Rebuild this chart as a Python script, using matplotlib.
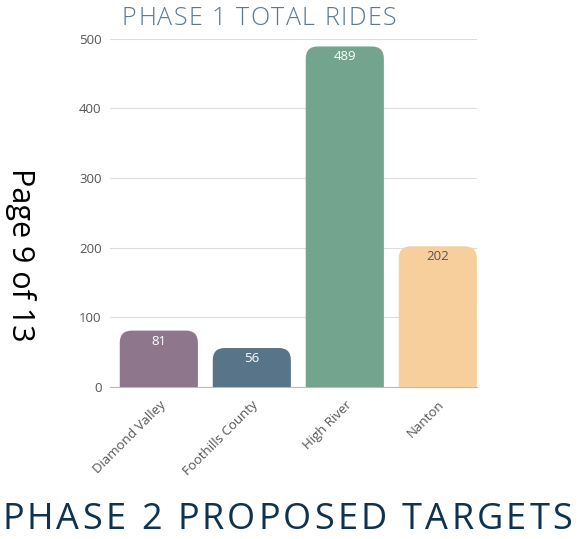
import matplotlib
matplotlib.use("Agg")
import matplotlib.pyplot as plt
from matplotlib.patches import FancyBboxPatch

categories = ["Diamond Valley", "Foothills County", "High River", "Nanton"]
rides = [81, 56, 489, 202]
bar_colors = ["#8e768c", "#587489", "#72a48e", "#f7cf9c"]
label_colors = ["white", "white", "white", "#555555"]
yticks = [0, 100, 200, 300, 400, 500]

plt.rcParams['font.family'] = ['Open Sans', 'DejaVu Sans']

fig = plt.figure(figsize=(5.78, 5.39), dpi=100)
ax = fig.add_axes([0.190, 0.282, 0.635, 0.646])
renderer = fig.canvas.get_renderer()


def spaced_text(x0, x1, y, s, **kw):
    # place letters one by one so the string fills x0..x1 (pixels)
    arts = [fig.text(0, 0, ch, ha="left", va="center", **kw) for ch in s]
    widths = [a.get_window_extent(renderer).width for a in arts]
    gap = (x1 - x0 - sum(widths)) / (len(s) - 1)
    x = x0
    for a, w in zip(arts, widths):
        a.set_position((x / 578, y))
        x += w + gap


width = 0.84
ax.set_xlim(-0.527, 3.42)
ax.set_ylim(0, 500)

# rounded top corners: extend box below 0 so bottom corners are clipped
pad_x = 0.13
aspect = (500 / 348) / (1 / 93)
for i, (v, c) in enumerate(zip(rides, bar_colors)):
    p = FancyBboxPatch((i - width / 2 + pad_x, -30), width - 2 * pad_x, v + 30 - pad_x * aspect,
                       boxstyle="round,pad=%f" % pad_x, mutation_aspect=aspect,
                       fc=c, ec="none", zorder=2)
    ax.add_patch(p)
    ax.text(i, v - 15, str(v), ha="center", va="center", fontsize=9.5,
            color=label_colors[i], zorder=3)

ax.set_yticks(yticks)
ax.grid(axis="y", color="#dddddd", lw=0.8, zorder=0)
ax.set_xticks(range(len(categories)))
ax.set_xticklabels(categories, rotation=45, ha="right", rotation_mode="anchor",
                   fontsize=9.5, color="#555555")
for t in ax.get_yticklabels():
    t.set_fontsize(9.5)
    t.set_color("#555555")
ax.tick_params(length=0, pad=6)
ax.tick_params(axis="x", pad=8)
for s in ["top", "right", "left"]:
    ax.spines[s].set_visible(False)
ax.spines["bottom"].set_color("#bbbbbb")
ax.spines["bottom"].set_zorder(1)

spaced_text(122, 396, 0.965, "PHASE 1 TOTAL RIDES", fontsize=18,
            color="#5a7890", fontweight="light")
fig.text(0.035, 0.527, "Page 9 of 13", rotation=-90, ha="center", va="center",
         fontsize=22, color="black")
spaced_text(2, 572, 0.036, "PHASE 2 PROPOSED TARGETS", fontsize=26,
            color="#0e3350")

fig.savefig("out.png", dpi=100)
